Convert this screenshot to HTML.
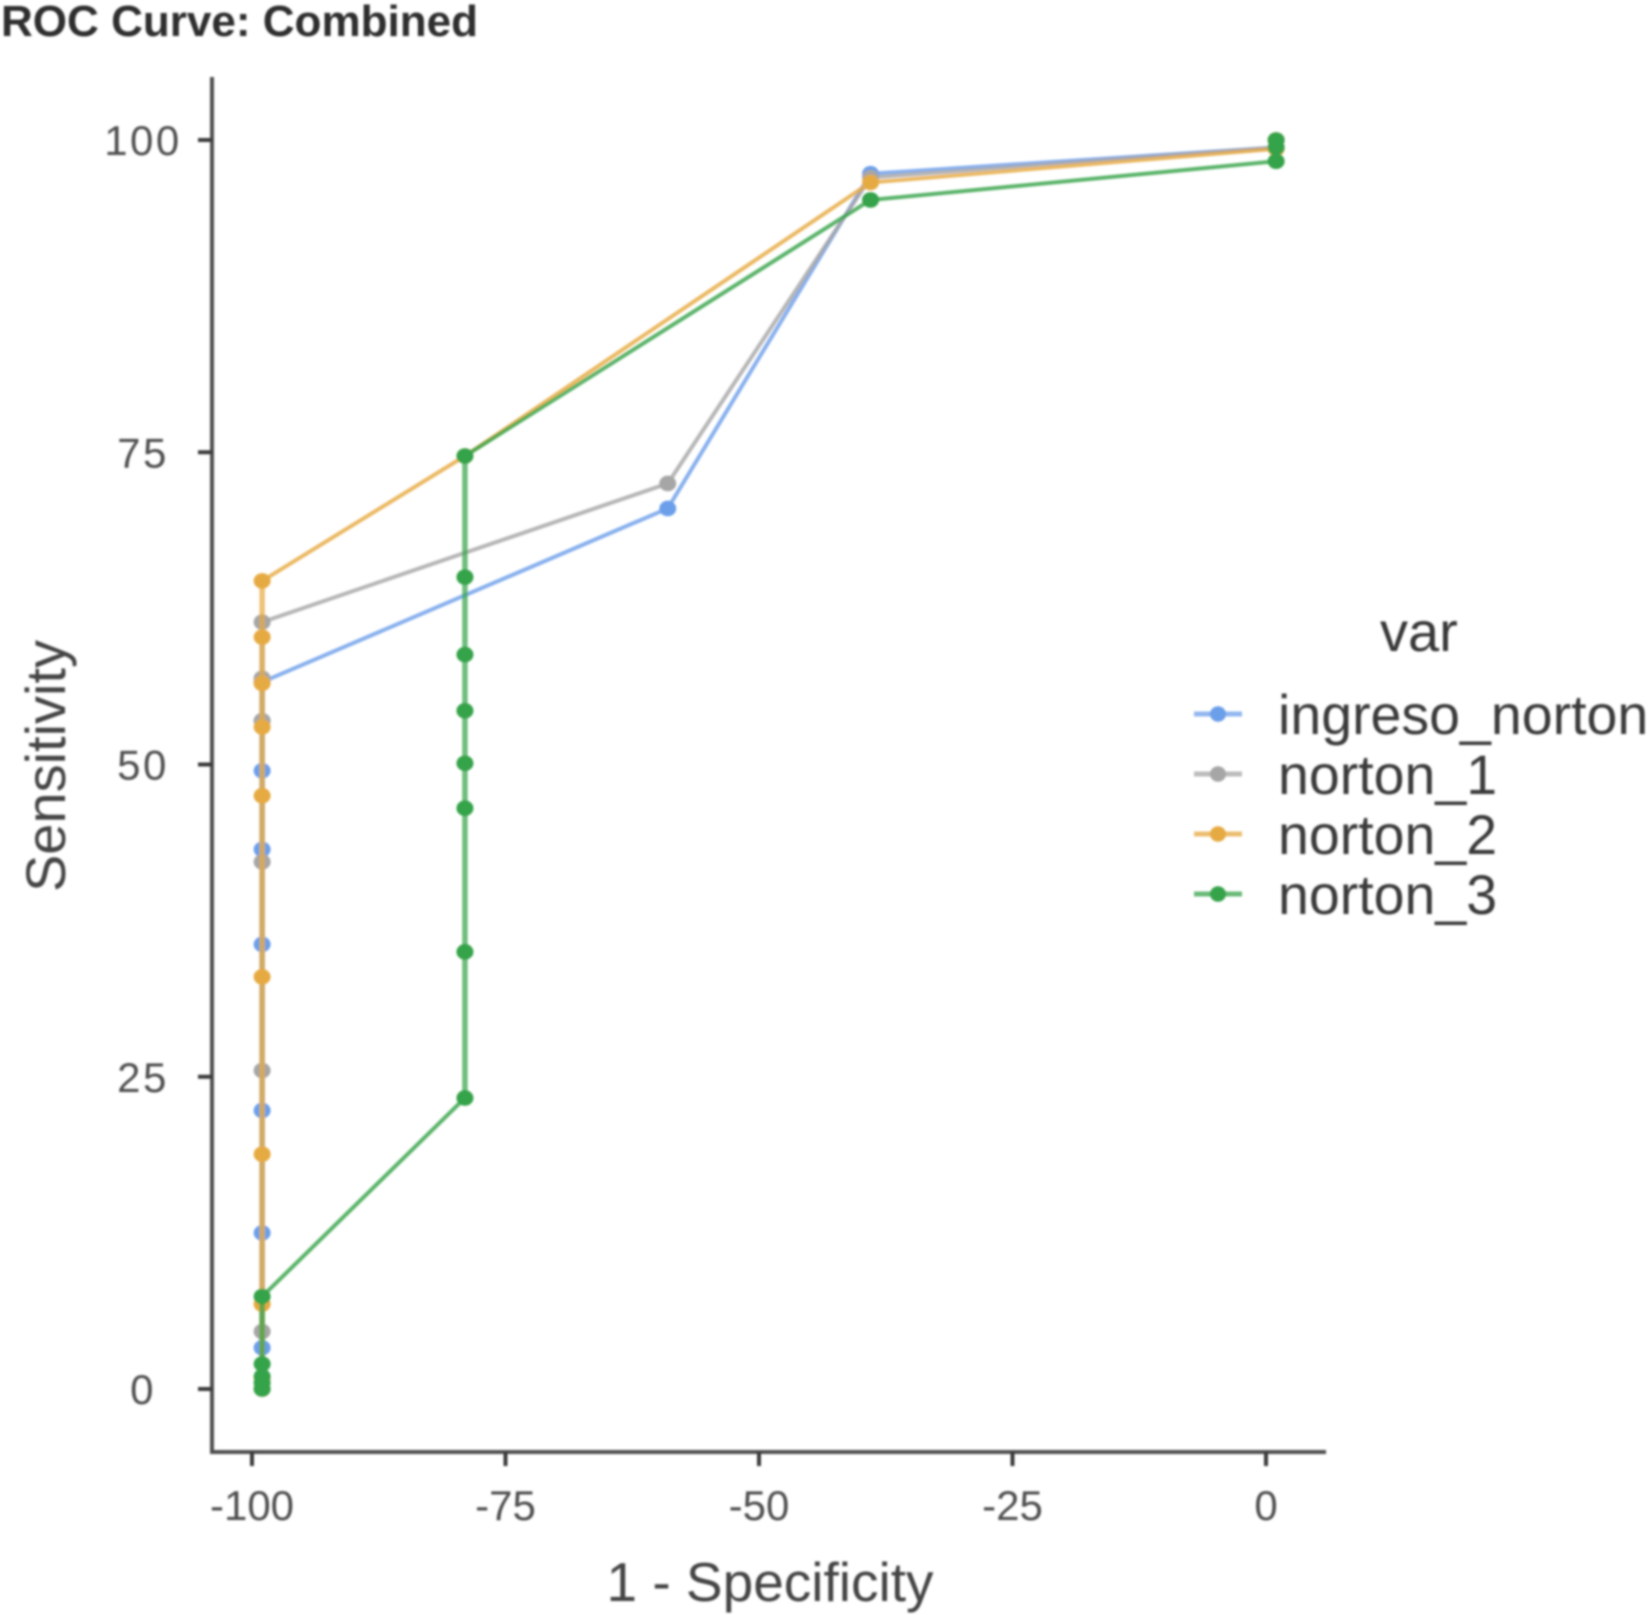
<!DOCTYPE html>
<html lang="en">
<head>
<meta charset="utf-8">
<title>ROC Curve: Combined</title>
<style>
  html, body { margin: 0; padding: 0; background: #fff; width: 1650px; height: 1615px; overflow: hidden; }
  svg { display: block; font-family: "Liberation Sans", sans-serif; }
</style>
</head>
<body>
<svg id="chart" xmlns="http://www.w3.org/2000/svg" width="1650" height="1615" viewBox="0 0 1650 1615">
  <defs>
    <filter id="soft" x="-5%" y="-5%" width="110%" height="110%"><feGaussianBlur stdDeviation="1.1"/></filter>
  </defs>
  <rect x="0" y="0" width="1650" height="1615" fill="#ffffff"/>
  <g id="root" filter="url(#soft)">
    <text x="1" y="36" font-size="44" font-weight="700" fill="#2e2e2e" textLength="477" lengthAdjust="spacingAndGlyphs">ROC Curve: Combined</text>
    <g id="axes"></g>
    <g id="marks"></g>
    <text x="770" y="1601" font-size="55" fill="#444444" text-anchor="middle">1 - Specificity</text>
    <text transform="translate(65 766) rotate(-90)" font-size="56" fill="#444444" text-anchor="middle">Sensitivity</text>
    <g>
      <text x="1380" y="651" font-size="56" fill="#383838">var</text>
      <g id="legend-entries"></g>
    </g>
  </g>
</svg>
<script>
const xTickValues = [-100, -75, -50, -25, 0];
const xTickLabels = ["-100", "-75", "-50", "-25", "0"];
const yTickValues = [0, 25, 50, 75, 100];
const yTickLabels = ["0", "25", "50", "75", "100"];

const seriesNames = ["ingreso_norton", "norton_1", "norton_2", "norton_3"];

const ingresoX = [-99, -99, -99, -99, -99, -99, -99, -99, -99, -99, -59, -39, 1, 1];
const ingresoY = [0, 3.3, 12.5, 22.3, 35.6, 43.2, 49.5, 53.5, 56.6, 56.6, 70.5, 97.3, 99.4, 100];

const norton1X = [-99, -99, -99, -99, -99, -99, -99, -59, -39, 1, 1];
const norton1Y = [0, 4.6, 25.5, 42.2, 53.5, 56.9, 61.4, 72.5, 97, 99.4, 100];

const norton2X = [-99, -99, -99, -99, -99, -99, -99, -99, -99, -99, -79, -39, 1, 1];
const norton2Y = [0, 0.9, 6.8, 18.8, 33, 47.5, 53, 56.5, 60.2, 64.7, 74.7, 96.6, 99.3, 100];

const norton3X = [-99, -99, -99, -99, -99, -79, -79, -79, -79, -79, -79, -79, -79, -39, 1, 1, 1];
const norton3Y = [0, 0.5, 1, 2, 7.4, 23.3, 35, 46.5, 50.1, 54.3, 58.8, 65, 74.7, 95.2, 98.3, 99.4, 100];

const seriesColors = ["#6c9fea", "#a6a6a6", "#e6aa42", "#36a34a"];

const NS = "http://www.w3.org/2000/svg";
const X_ZERO = 1266, X_UNIT = 10.14;
const Y_ZERO = 1389, Y_UNIT = 12.49;
function xScale(v) { return X_ZERO + v * X_UNIT; }
function yScale(v) { return Y_ZERO - v * Y_UNIT; }

function make(tag, attrs, parent) {
  const el = document.createElementNS(NS, tag);
  for (const k in attrs) el.setAttribute(k, attrs[k]);
  parent.appendChild(el);
  return el;
}

const axes = document.getElementById("axes");
const AXIS_COLOR = "#4f4f4f";
const yLine = make("line", { x1: 212, y1: 77, x2: 212, y2: 1454, stroke: AXIS_COLOR, "stroke-width": 4 }, axes);


const xLine = make("line", { x1: 210, y1: 1452, x2: 1326, y2: 1452, stroke: AXIS_COLOR, "stroke-width": 4 }, axes);



xTickValues.forEach(function (v, i) {
  const px = xScale(v);
  const tick = make("line", { x1: px, y1: 1452, x2: px, y2: 1466, stroke: "#3a3a3a", "stroke-width": 4 }, axes);
  
  
  const label = make("text", { x: px, y: 1520, "font-size": 42, fill: "#4f4f4f", "text-anchor": "middle" }, axes);
  
  
  label.textContent = xTickLabels[i];
});

yTickValues.forEach(function (v, i) {
  const py = yScale(v);
  const tick = make("line", { x1: 198, y1: py, x2: 212, y2: py, stroke: "#3a3a3a", "stroke-width": 4 }, axes);
  
  
  const label = make("text", { x: 143, y: py + 15, "font-size": 42, fill: "#4f4f4f", "text-anchor": "middle", "letter-spacing": 2.5 }, axes);
  
  
  label.textContent = yTickLabels[i];
});

const marks = document.getElementById("marks");
const seriesX = [ingresoX, norton1X, norton2X, norton3X];
const seriesY = [ingresoY, norton1Y, norton2Y, norton3Y];

seriesNames.forEach(function (name, s) {
  const g = make("g", {}, marks);
  
  
  const xs = seriesX[s];
  const ys = seriesY[s];
  for (let i = 1; i < xs.length; i++) {
    const vertical = xs[i] === xs[i - 1];
    const seg = make("line", {
      x1: xScale(xs[i - 1]), y1: yScale(ys[i - 1]),
      x2: xScale(xs[i]), y2: yScale(ys[i]),
      stroke: seriesColors[s],
      "stroke-width": vertical ? 5.5 : 4,
      "stroke-opacity": vertical ? 0.72 : 0.82
    }, g);
    
    
  }
  xs.forEach(function (xv, i) {
    const c = make("ellipse", { cx: xScale(xv), cy: yScale(ys[i]), rx: 8.5, ry: 7.8, fill: seriesColors[s] }, g);
    
    
  });
});

const legendEntries = document.getElementById("legend-entries");
seriesNames.forEach(function (name, s) {
  const cy = 714 + s * 60;
  const g = make("g", {}, legendEntries);
  
  
  const key = make("line", { x1: 1194, y1: cy, x2: 1242, y2: cy, stroke: seriesColors[s], "stroke-width": 5, "stroke-opacity": 0.75 }, g);
  
  
  const dot = make("ellipse", { cx: 1218, cy: cy, rx: 8, ry: 7.8, fill: seriesColors[s] }, g);
  
  
  const t = make("text", { x: 1278, y: cy + 20, "font-size": 55.5, fill: "#3a3a3a" }, g);
  
  
  t.textContent = name;
});
</script>
</body>
</html>
